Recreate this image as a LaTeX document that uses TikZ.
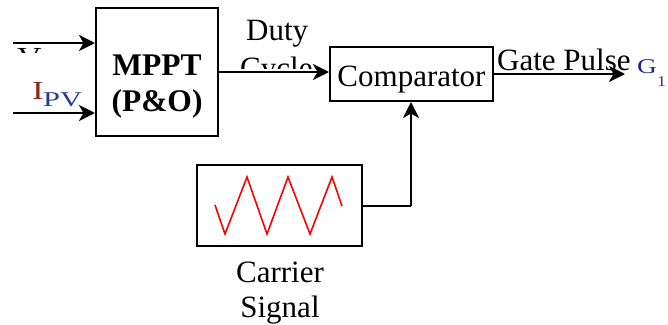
\documentclass[tikz,border=0pt]{standalone}
\usepackage{fontspec}
\setmainfont{Liberation Serif}
\usetikzlibrary{arrows.meta}
\definecolor{ired}{RGB}{140,40,20}
\definecolor{pvblue}{RGB}{30,60,150}
\definecolor{gblue}{RGB}{30,40,140}
\definecolor{onepurple}{RGB}{100,40,140}
\begin{document}
\begin{tikzpicture}[x=1pt,y=-1pt,
  blk/.style={draw=black,line width=2pt,inner sep=0pt},
  arr/.style={line width=2.5pt,-{Stealth[length=16pt,width=16pt,inset=4.5pt]}},
  ln/.style={line width=2.5pt},
  big/.style={font=\fontsize{31}{32}\selectfont,inner sep=0pt},
  lab/.style={font=\fontsize{26}{27}\selectfont,inner sep=0pt}]
\useasboundingbox (0,0) rectangle (668,324);
% blocks
\node[blk,minimum width=122pt,minimum height=128pt] (mppt) at (157,72) {};
\node[blk,minimum width=163pt,minimum height=54pt] (comp) at (411.5,74) {};
\node[blk,minimum width=165pt,minimum height=81pt] (carr) at (279.5,205.5) {};
% block texts
\node[big,anchor=base,font=\fontsize{31.5}{32}\selectfont\bfseries] (t1) at (157,75) {MPPT};
\node[big,anchor=base,font=\fontsize{31.5}{32}\selectfont\bfseries] (t2) at (157,111) {(P\&O)};
\node[big,anchor=base] (t3) at (411.5,86) {Comparator};
% inputs
\coordinate (vin) at (13,43);
\coordinate (iin) at (13,113);
\draw[arr] (vin) -- (vin -| mppt.west);
\draw[arr] (iin) -- (iin -| mppt.west);
\begin{scope}
\clip (0,44) rectangle (90,52.5);
\node[lab,anchor=base west] (vlab) at (17,65) {\scalebox{1.3}[1]{V}};
\end{scope}
\node[lab,anchor=base west,text=ired] (ilab) at (32,99) {\scalebox{1.35}[1]{I}};
\node[anchor=base west,inner sep=0pt,text=pvblue,font=\fontsize{21}{21}\selectfont] (pvlab) at (43,106) {\scalebox{1.45}[1]{PV}};
% duty cycle
\coordinate (m1) at (mppt.east |- 0,72);
\draw[arr] (m1) -- (m1 -| comp.west);
\node[big,anchor=base west] (duty) at (246,40) {Duty};
\begin{scope}
\clip (200,50) rectangle (330,68.5);
\node[big,anchor=base west] (cyc) at (240,78) {Cycle};
\end{scope}
% gate pulse
\coordinate (gend) at (625,74);
\draw[arr] (comp.east) -- (gend);
\node[big,anchor=base west] (gp) at (497,70) {Gate Pulse};
\node[anchor=base west,inner sep=0pt,text=gblue,font=\fontsize{21}{21}\selectfont] (g1) at (637,73) {\scalebox{1.3}[1]{G}};
\node[anchor=base west,inner sep=0pt,text=onepurple,font=\fontsize{15}{16}\selectfont] (g1s) at (657,86) {\scalebox{1.2}[1]{1}};
% carrier connection
\coordinate (cr) at (carr.east |- 0,206);
\draw[ln] (cr) -- (411,206) coordinate (cc);
\draw[arr] (cc) -- (comp.south -| cc);
% triangle wave
\draw[red,line width=1.6pt,line join=miter] (215,205) -- (225,234) -- (247,177) -- (267,234) -- (288,177) -- (310,234) -- (332,177) -- (342,206);
% carrier label
\node[big,anchor=base] (cl1) at (280,282) {Carrier};
\node[big,anchor=base] (cl2) at (280,317) {Signal};
\end{tikzpicture}
\end{document}
